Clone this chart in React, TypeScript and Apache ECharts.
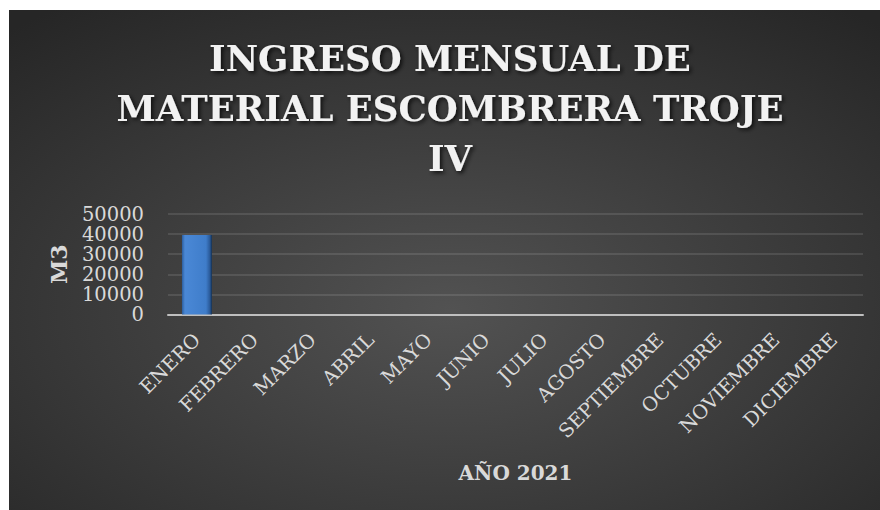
import React, { useEffect, useRef } from "react";
import * as echarts from "echarts";

const titleLines = ["INGRESO MENSUAL DE", "MATERIAL ESCOMBRERA TROJE", "IV"];
const months = [
  "ENERO", "FEBRERO", "MARZO", "ABRIL", "MAYO", "JUNIO",
  "JULIO", "AGOSTO", "SEPTIEMBRE", "OCTUBRE", "NOVIEMBRE", "DICIEMBRE",
];
const ingreso = [39500, 0, 0, 0, 0, 0, 0, 0, 0, 0, 0, 0];
const yAxisName = "M3";
const xAxisName = "AÑO 2021";

export default function App() {
  const ref = useRef<HTMLDivElement>(null);
  useEffect(() => {
    if (!ref.current) return;
    const chart = echarts.init(ref.current, null, { renderer: "svg" });
    chart.setOption({
      animation: false,
      backgroundColor: {
        type: "radial",
        x: 0.5,
        y: 0.6,
        r: 0.75,
        colorStops: [
          { offset: 0, color: "#525252" },
          { offset: 1, color: "#262626" },
        ],
      },
      title: {
        text: titleLines.join("\n"),
        left: "center",
        top: 18,
        textStyle: {
          fontFamily: "DejaVu Serif",
          fontWeight: "bold",
          fontSize: 35.5,
          lineHeight: 50,
          color: "#f2f2f2",
          textShadowColor: "rgba(0,0,0,0.75)",
          textShadowBlur: 4,
          textShadowOffsetX: 2,
          textShadowOffsetY: 2,
        },
      },
      grid: { left: 159, right: 28, top: 204, bottom: 195.5, containLabel: false },
      xAxis: {
        type: "category",
        data: months,
        name: xAxisName,
        nameLocation: "middle",
        nameGap: 148,
        nameTextStyle: {
          fontFamily: "DejaVu Serif",
          fontWeight: "bold",
          fontSize: 20,
          color: "#d9d9d9",
        },
        axisLine: { lineStyle: { color: "#bfbfbf", width: 2 } },
        axisTick: { show: false },
        axisLabel: {
          interval: 0,
          rotate: 45,
          margin: 22,
          fontFamily: "DejaVu Serif",
          fontSize: 19.5,
          color: "#d9d9d9",
        },
      },
      yAxis: {
        type: "value",
        min: 0,
        max: 50000,
        interval: 10000,
        name: yAxisName,
        nameLocation: "middle",
        nameGap: 98,
        nameTextStyle: {
          fontFamily: "DejaVu Serif",
          fontWeight: "bold",
          fontSize: 22,
          color: "#d9d9d9",
        },
        axisLine: { show: false },
        axisTick: { show: false },
        axisLabel: {
          margin: 24,
          fontFamily: "DejaVu Serif",
          fontSize: 19.5,
          lineHeight: 19,
          color: "#d9d9d9",
          formatter: (v: number) => String(v),
        },
        splitLine: { lineStyle: { color: "rgba(255,255,255,0.14)", width: 1.5 } },
      },
      series: [
        {
          type: "bar",
          data: ingreso,
          barWidth: 30,
          itemStyle: {
            color: {
              type: "linear",
              x: 0,
              y: 0,
              x2: 1,
              y2: 0,
              colorStops: [
                { offset: 0, color: "#2c5e9e" },
                { offset: 0.1, color: "#4a88d6" },
                { offset: 0.8, color: "#3f7dca" },
                { offset: 0.93, color: "#2a5a99" },
                { offset: 1, color: "#15304f" },
              ],
            },
          },
        },
      ],
    });
    return () => chart.dispose();
  }, []);
  return (
    <div
      style={{
        position: "absolute",
        left: 9,
        top: 10,
        width: 871,
        height: 500,
        overflow: "hidden",
      }}
    >
      <div ref={ref} style={{ width: 882, height: 500 }} />
    </div>
  );
}
